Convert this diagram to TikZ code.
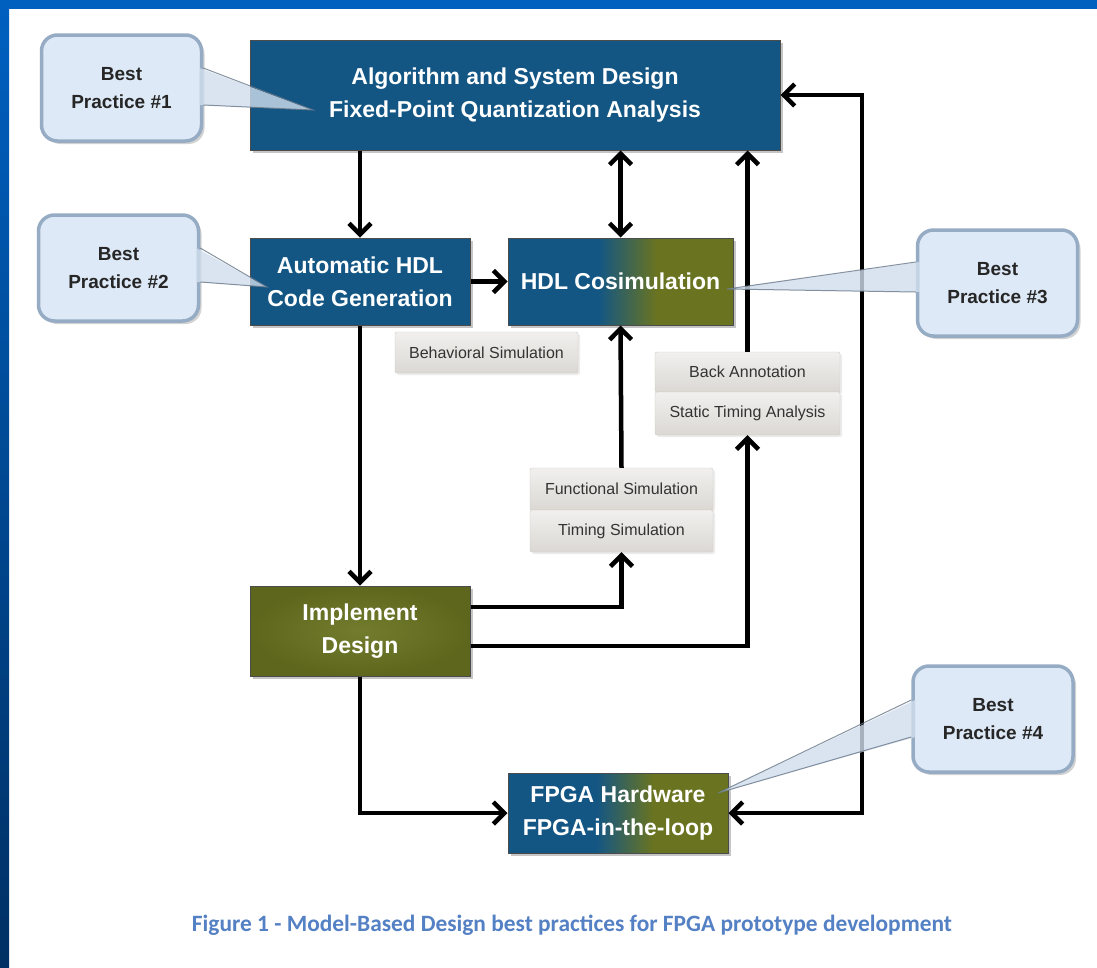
\documentclass[tikz,border=0pt]{standalone}
\usepackage{fontspec}
\setmainfont{Liberation Sans}
\newfontfamily\capfont{Carlito}
\usetikzlibrary{arrows.meta,shadows}
\definecolor{boxblue}{RGB}{19,86,132}
\definecolor{boxolive}{RGB}{106,116,32}
\definecolor{pageblue}{RGB}{0,96,192}
\definecolor{pagedark}{RGB}{0,48,100}
\definecolor{bpfill}{RGB}{221,233,246}
\definecolor{bpedge}{RGB}{150,172,196}
\definecolor{tagtop}{RGB}{241,240,238}
\definecolor{tagbot}{RGB}{219,216,212}
\definecolor{tagedge}{RGB}{205,201,197}
\definecolor{captionblue}{RGB}{84,128,196}
\pgfdeclarehorizontalshading{blueolive}{100bp}{color(0bp)=(boxblue); color(45bp)=(boxblue); color(58bp)=(boxolive); color(100bp)=(boxolive)}
\tikzset{
  >={Straight Barb[length=11pt,width=22pt]},
}
\tikzstyle{stage}=[draw=black!70,line width=1pt,text=white,align=center,inner sep=0pt,
  font=\bfseries\fontsize{23}{33}\selectfont,
  drop shadow={shadow xshift=3pt,shadow yshift=-3pt,opacity=0.45}]
\tikzstyle{bluestage}=[stage,fill=boxblue]
\tikzstyle{olivestage}=[stage,inner color=boxolive!94!white,outer color=boxolive!88!black]
\tikzstyle{mixstage}=[stage,shading=blueolive]
\tikzstyle{tag}=[draw=tagedge,top color=tagtop,bottom color=tagbot,rounded corners=2pt,
  text=black!80,font=\fontsize{16}{18}\selectfont,inner sep=0pt,
  drop shadow={shadow xshift=2pt,shadow yshift=-2pt,opacity=0.15}]
\tikzstyle{practice}=[draw=bpedge,line width=3.5pt,fill=bpfill,rounded corners=16pt,
  align=center,text=black!85,font=\bfseries\fontsize{19}{28}\selectfont,
  minimum width=160pt,minimum height=106pt,
  drop shadow={shadow xshift=3pt,shadow yshift=-3pt,opacity=0.35}]
\tikzstyle{pointer}=[fill=bpfill!82!bpedge,fill opacity=0.8]
\tikzstyle{pointer edge}=[draw=bpedge!70!black,line width=1pt,draw opacity=0.8]
\tikzstyle{flow}=[line width=4.5pt,->]

\begin{document}
\begin{tikzpicture}[x=1pt,y=-1pt]
  \useasboundingbox (0,0) rectangle (1097,967);
  % page
  \fill[white] (0,0) rectangle (1097,967);
  \fill[pageblue] (0,0) rectangle (1097,9);
  \shade[top color=pageblue,bottom color=pagedark] (0,0) rectangle (9,967);

  % stages
  \node[bluestage,minimum width=530pt,minimum height=110pt] (alg) at (515,95)
    {Algorithm and System Design\\Fixed-Point Quantization Analysis};
  \node[bluestage,minimum width=220pt,minimum height=87pt] (gen) at (360,281.5)
    {Automatic HDL\\Code Generation};
  \node[mixstage,minimum width=225pt,minimum height=87pt] (cosim) at (620.5,281.5)
    {HDL Cosimulation};
  \node[olivestage,minimum width=220pt,minimum height=90pt] (impl) at (360,631)
    {Implement\\Design};
  \node[mixstage,minimum width=220pt,minimum height=80pt] (fpga) at (618,813)
    {FPGA Hardware\\FPGA-in-the-loop};

  % verification steps
  \node[tag,minimum width=183pt,minimum height=41pt] (behav) at (486.5,352.5) {Behavioral Simulation};
  \node[tag,minimum width=185pt,minimum height=40pt] (back) at (747.5,372) {Back Annotation};
  \node[tag,minimum width=185pt,minimum height=43pt] (sta) at (747.5,413.5) {Static Timing Analysis};
  \node[tag,minimum width=183pt,minimum height=42pt] (func) at (621.5,489) {Functional Simulation};
  \node[tag,minimum width=183pt,minimum height=42pt] (timsim) at (621.5,531) {Timing Simulation};

  % flow
  \coordinate (loop) at (862,95);
  \draw[flow] (alg.south -| gen.north) -- (gen.north);
  \draw[flow,<->] (alg.south -| cosim.north) -- (cosim.north);
  \draw[flow] (gen) -- (cosim);
  \draw[flow] (gen.south) -- (impl.north);
  \draw[flow] ([yshift=24pt]impl.east) -| (timsim.south);
  \draw[flow] (func.north) -- (cosim.south);
  \draw[flow] ([yshift=-15pt]impl.east) -| (sta.south);
  \draw[flow] (back.north) -- (alg.south -| back.north);
  \draw[flow] (impl.south) |- (fpga.west);
  \draw[flow,<->] (alg.east) -- (loop) |- (fpga.east);

  % best practices
  \node[practice] (bp1) at (121.5,88) {Best\\Practice \#1};
  \node[practice] (bp2) at (118.5,268) {Best\\Practice \#2};
  \node[practice] (bp3) at (997.5,283) {Best\\Practice \#3};
  \node[practice] (bp4) at (993,719) {Best\\Practice \#4};
  \coordinate (bp1 tip) at (313,110);
  \coordinate (bp2 tip) at (267,287);
  \coordinate (bp3 tip) at (727,289);
  \coordinate (bp4 tip) at (718,793);
  \foreach \p/\s/\x/\u/\l in {bp1/east/-4/20/-17, bp2/east/-4/20/-14,
                              bp3/west/4/21/-9, bp4/west/4/19/-18} {
    \fill[pointer] ([xshift=\x pt,yshift=\u pt]\p.\s) -- (\p\space tip)
      -- ([xshift=\x pt,yshift=\l pt]\p.\s) -- cycle;
    \draw[pointer edge] ([yshift=\u pt]\p.\s) -- (\p\space tip) -- ([yshift=\l pt]\p.\s);
  }

  % caption
  \node[font=\capfont\bfseries\fontsize{23.4}{26}\selectfont,text=captionblue] (caption) at (572,925)
    {Figure 1 - Model-Based Design best practices for FPGA prototype development};
\end{tikzpicture}
\end{document}
